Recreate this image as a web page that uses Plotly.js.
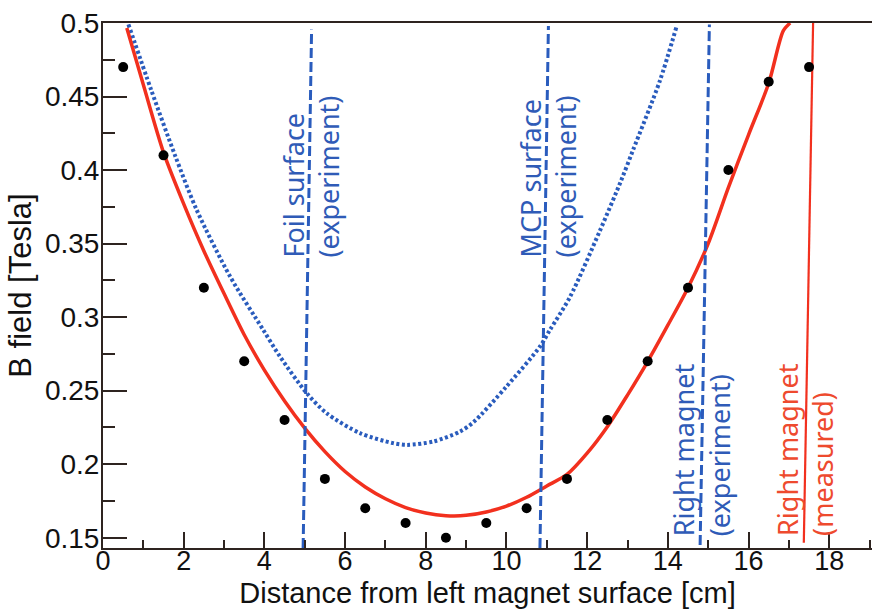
<!DOCTYPE html>
<html>
<head>
<meta charset="utf-8">
<script src="https://cdn.plot.ly/plotly-3.0.1.min.js"></script>
<style>html,body{margin:0;padding:0;background:#fff;}#chart{width:872px;height:609px;}</style>
</head>
<body>
<div id="chart"></div>
<script>
// Measured points
const dataX = [0.5,1.5,2.5,3.5,4.5,5.5,6.5,7.5,8.5,9.5,10.5,11.5,12.5,13.5,14.5,15.5,16.5,17.5];
const dataY = [0.47,0.41,0.32,0.27,0.23,0.19,0.17,0.16,0.15,0.16,0.17,0.19,0.23,0.27,0.32,0.40,0.46,0.47];

// Red solid curve (measured magnet gap)
const redX = [0.59,1.0,1.5,2.0,2.5,3.0,3.5,4.0,4.5,5.0,5.5,6.0,6.5,7.0,7.5,8.0,8.5,9.0,9.5,10.0,10.5,11.0,11.5,12.0,12.5,13.0,13.5,14.0,14.5,15.0,15.5,16.0,16.5,16.86,17.03];
const redY = [0.4966,0.458,0.412,0.377,0.345,0.316,0.288,0.264,0.243,0.2245,0.2085,0.195,0.1845,0.1765,0.1705,0.1668,0.165,0.1652,0.1675,0.1715,0.1775,0.1852,0.193,0.2075,0.2255,0.247,0.2698,0.2945,0.320,0.350,0.388,0.424,0.459,0.4946,0.5];

// Blue dotted curve (experiment gap)
const blueX = [0.63,1.2,1.785,2.32,3.15,3.97,4.39,5.05,5.54,6.37,7.19,7.53,8.19,8.85,9.18,10.0,10.83,11.08,11.57,12.32,12.85,13.14,13.8,14.22];
const blueY = [0.499,0.454,0.41,0.373,0.3276,0.2914,0.273,0.2483,0.2347,0.2211,0.2143,0.2131,0.2154,0.2222,0.2285,0.2528,0.28,0.2914,0.3135,0.359,0.3934,0.4138,0.4605,0.498];

// Vertical marker lines
const foilX = [4.96,5.17], foilY = [0.143,0.4955];
const mcpX = [10.83,11.04], mcpY = [0.143,0.498];
const rightExpX = [14.80,15.03], rightExpY = [0.145,0.499];
const rightMeasX = [17.37,17.60], rightMeasY = [0.1466,0.5];

// Labels
const labelText = ["Foil surface<br>(experiment)","MCP surface<br>(experiment)","Right magnet<br>(experiment)","Right magnet<br>(measured)"];
const labelX = [5.15,11.02,14.83,17.40];
const labelY = [0.3954,0.3954,0.2097,0.2097];
const labelColor = ["#2f5bb7","#2f5bb7","#2f5bb7","#ee4a2e"];

const yTickVals = [0.15,0.2,0.25,0.3,0.35,0.4,0.45,0.5];
const yTickText = ["0.15","0.2","0.25","0.3","0.35","0.4","0.45","0.5"];
const yMinorVals = [0.175,0.225,0.275,0.325,0.375,0.425,0.475];
const xTickVals = [0,2,4,6,8,10,12,14,16,18];
const xTickText = ["0","2","4","6","8","10","12","14","16","18"];
const xMinorVals = [1,3,5,7,9,11,13,15,17,19];

const BLUE = "#2a5cbd", RED = "#f2301e", AX = "#2e2420";
const XR = [0, 19.06], YR = [0.143, 0.5];

const traces = [
  {x: blueX, y: blueY, mode: "lines", line: {color: BLUE, width: 4, dash: "3px,2.5px", shape: "spline", smoothing: 0.8}},
  {x: redX, y: redY, mode: "lines", line: {color: RED, width: 3.5, shape: "spline", smoothing: 0.8}},
  {x: rightMeasX, y: rightMeasY, mode: "lines", line: {color: RED, width: 2.2}},
  {x: foilX, y: foilY, mode: "lines", line: {color: BLUE, width: 3, dash: "10px,4px"}},
  {x: mcpX, y: mcpY, mode: "lines", line: {color: BLUE, width: 3, dash: "10px,4px"}},
  {x: rightExpX, y: rightExpY, mode: "lines", line: {color: BLUE, width: 3, dash: "10px,4px"}},
  {x: dataX, y: dataY, mode: "markers", marker: {color: "#000", size: 10}},
  // invisible trace on the overlay axes that carry the minor ticks
  {x: [XR[0]], y: [YR[0]], xaxis: "x2", yaxis: "y2", mode: "markers", marker: {opacity: 0}}
];

const annotations = labelText.map((t, i) => ({
  x: labelX[i], y: labelY[i], xref: "x", yref: "y", text: t, showarrow: false,
  textangle: -90, align: "left", xanchor: "center", yanchor: "middle",
  font: {family: "Noto Sans", size: 27, color: labelColor[i]}
}));

const layout = {
  width: 872, height: 609,
  margin: {l: 103, r: 0, t: 23, b: 61},
  paper_bgcolor: "#fff", plot_bgcolor: "#fff",
  showlegend: false,
  font: {family: "Liberation Sans, Arial, sans-serif", color: "#111"},
  xaxis: {
    range: XR, showgrid: false, zeroline: false,
    showline: true, linecolor: AX, linewidth: 2, mirror: true,
    tickmode: "array", tickvals: xTickVals, ticktext: xTickText,
    ticks: "inside", ticklen: 16, tickwidth: 2, tickcolor: AX,
    tickfont: {size: 27, color: "#111"}, ticklabelstandoff: -12,
    title: {text: "Distance from left magnet surface [cm]", font: {size: 29, color: "#111"}, standoff: 8}
  },
  yaxis: {
    range: YR, showgrid: false, zeroline: false,
    showline: true, linecolor: AX, linewidth: 2, mirror: false,
    tickmode: "array", tickvals: yTickVals, ticktext: yTickText,
    ticks: "inside", ticklen: 24, tickwidth: 2, tickcolor: AX,
    tickfont: {size: 28, color: "#111"}, ticklabelstandoff: -4,
    title: {text: "B field [Tesla]", font: {size: 31, color: "#111"}, standoff: 4}
  },
  xaxis2: {
    range: XR, overlaying: "x", side: "bottom", showgrid: false, zeroline: false, showline: false,
    tickmode: "array", tickvals: xMinorVals, showticklabels: false,
    ticks: "inside", ticklen: 8, tickwidth: 2, tickcolor: AX
  },
  yaxis2: {
    range: YR, overlaying: "y", side: "left", showgrid: false, zeroline: false, showline: false,
    tickmode: "array", tickvals: yMinorVals, showticklabels: false,
    ticks: "inside", ticklen: 12, tickwidth: 2, tickcolor: AX
  },
  annotations: annotations
};

Plotly.newPlot("chart", traces, layout, {displayModeBar: false, staticPlot: true});
</script>
</body>
</html>
